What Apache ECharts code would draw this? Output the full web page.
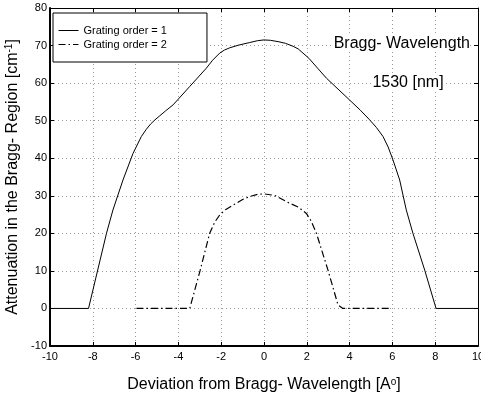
<!DOCTYPE html>
<html>
<head>
<meta charset="utf-8">
<script src="https://cdn.jsdelivr.net/npm/echarts@6/dist/echarts.min.js"></script>
<style>
  html, body { margin: 0; padding: 0; background: #fff; }
  #chart { width: 481px; height: 396px; }
</style>
</head>
<body>
<div id="chart"></div>
<script>
// values
let order1X = [-10, -8.2, -7.36, -7.06, -6.59, -6.12, -5.73, -5.5, -5.3, -5.1, -4.87, -4.6, -4.25, -3.47, -2.69, -2.4, -2.07, -1.85, -1.6, -1.2, -0.67, -0.3, 0, 0.3, 0.7, 1.0, 1.36, 1.6, 1.82, 2.1, 2.5, 2.92, 4.0, 4.5, 4.94, 5.25, 5.56, 5.8, 6.03, 6.34, 6.65, 6.96, 7.51, 8.04, 10];
let order1Y = [0, 0, 20, 26.2, 34.2, 41.3, 45.8, 47.7, 49.1, 50.2, 51.3, 52.6, 54.2, 59.1, 64, 66.1, 68, 68.8, 69.4, 70.1, 70.8, 71.3, 71.5, 71.4, 71, 70.6, 69.8, 69.1, 68, 66.6, 64, 61.3, 55.5, 52.8, 50.2, 48.2, 45.8, 43, 39.5, 34.2, 26.2, 20, 10.2, 0, 0];
let order2X = [-5.96, -3.47, -2.99, -2.54, -2.3, -2.07, -1.8, -1.45, -1.0, -0.67, -0.3, 0, 0.5, 1.2, 1.6, 1.98, 2.2, 2.45, 2.99, 3.46, 3.69, 5.95];
let order2Y = [0, 0, 10, 20, 23, 24.9, 26.3, 27.5, 29, 29.8, 30.4, 30.5, 30.1, 28, 27, 25.3, 23.3, 20, 10.2, 0.9, 0, 0];
let seriesNames = ['Grating order = 1', 'Grating order = 2'];

function zip(xs, ys) {
    return xs.map(function (x, i) { return [x, ys[i]]; });
}

let chart = echarts.init(document.getElementById('chart'));
let font = 'Liberation Sans, Arial, sans-serif';
let gridLine = {show: true, lineStyle: {color: '#9a9a9a', type: [1, 3], width: 1}};

let option = {
    animation: false,
    textStyle: {fontFamily: font, color: '#000'},
    grid: {left: 50, right: 3, top: 8, bottom: 50, outerBoundsMode: 'none', containLabel: false},
    legend: {
        orient: 'vertical',
        left: 53,
        top: 13,
        itemWidth: 20,
        itemHeight: 12,
        itemGap: 3,
        padding: [12, 40, 12, 5],
        backgroundColor: '#fff',
        borderColor: '#000',
        borderWidth: 1,
        borderRadius: 0,
        itemStyle: {opacity: 0},
        lineStyle: {width: 1},
        textStyle: {fontSize: 11, color: '#000', fontFamily: font},
        data: seriesNames
    },
    xAxis: [{
        type: 'value',
        min: -10, max: 10, interval: 2,
        name: 'Deviation from Bragg- Wavelength [A{s|o}]',
        nameLocation: 'middle',
        nameGap: 31,
        nameTextStyle: {fontSize: 16, color: '#000', fontFamily: font,
            rich: {s: {fontSize: 10, verticalAlign: 'top', fontFamily: font, color: '#000'}}},
        axisLine: {onZero: false, lineStyle: {color: '#000', width: 2}},
        axisTick: {inside: true, length: 4, lineStyle: {color: '#000'}},
        axisLabel: {fontSize: 11, color: '#000', margin: 5},
        splitLine: gridLine
    }, {
        type: 'value', position: 'top',
        min: -10, max: 10, interval: 2,
        axisLine: {onZero: false, lineStyle: {color: '#000', width: 1}},
        axisTick: {inside: true, length: 4, lineStyle: {color: '#000'}},
        axisLabel: {show: false},
        splitLine: {show: false}
    }],
    yAxis: [{
        type: 'value',
        min: -10, max: 80, interval: 10,
        name: 'Attenuation in the Bragg- Region [cm{s|-1}]',
        nameLocation: 'middle',
        nameGap: 22,
        nameTextStyle: {fontSize: 16, color: '#000', fontFamily: font,
            rich: {s: {fontSize: 10, verticalAlign: 'top', fontFamily: font, color: '#000'}}},
        axisLine: {onZero: false, lineStyle: {color: '#000', width: 2}},
        axisTick: {inside: true, length: 4, lineStyle: {color: '#000'}},
        axisLabel: {fontSize: 11, color: '#000', margin: 3},
        splitLine: gridLine
    }, {
        type: 'value', position: 'right',
        min: -10, max: 80, interval: 10,
        axisLine: {onZero: false, lineStyle: {color: '#000', width: 1}},
        axisTick: {inside: true, length: 4, lineStyle: {color: '#000'}},
        axisLabel: {show: false},
        splitLine: {show: false}
    }],
    graphic: [{
        type: 'text', z: 100,
        style: {x: 470, y: 44, text: 'Bragg- Wavelength', fontSize: 16, fontFamily: font, fill: '#000',
            align: 'right', verticalAlign: 'middle', backgroundColor: '#fff'}
    }, {
        type: 'text', z: 100,
        style: {x: 408, y: 83, text: '1530 [nm]', fontSize: 16, fontFamily: font, fill: '#000',
            align: 'center', verticalAlign: 'middle', backgroundColor: '#fff'}
    }],
    series: [{
        name: seriesNames[0],
        type: 'line',
        symbol: 'none',
        lineStyle: {color: '#000', width: 1},
        itemStyle: {color: '#000'},
        data: zip(order1X, order1Y)
    }, {
        name: seriesNames[1],
        type: 'line',
        symbol: 'none',
        lineStyle: {color: '#000', width: 1.2, type: [7, 3, 1.5, 3]},
        itemStyle: {color: '#000'},
        data: zip(order2X, order2Y)
    }]
};

chart.setOption(option);
</script>
</body>
</html>
